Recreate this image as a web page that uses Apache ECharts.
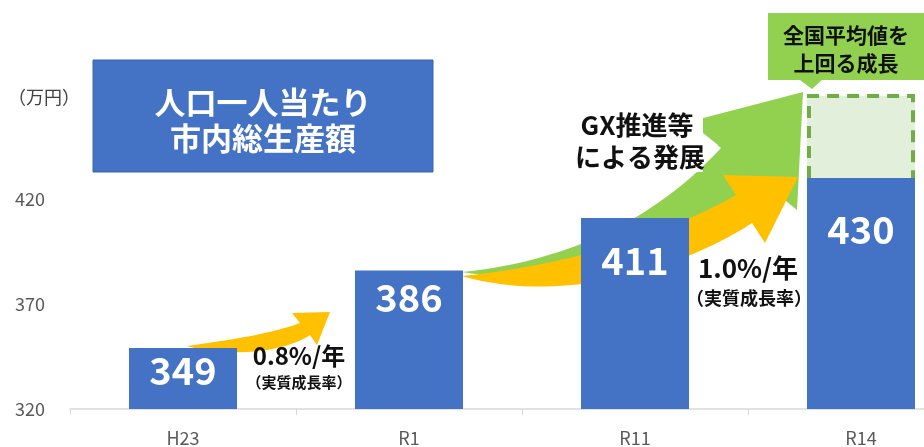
<!DOCTYPE html>
<html><head><meta charset="utf-8">
<script src="https://cdn.jsdelivr.net/npm/echarts@6/dist/echarts.min.js"></script>
<style>html,body{margin:0;padding:0;background:#fff}#c{width:924px;height:447px}</style>
</head><body><div id="c"></div>
<script>
const categories = ['H23', 'R1', 'R11', 'R14'];
const values = [349, 386, 411, 430];
const projected = [null, null, null, 469];
const yTicks = [320, 370, 420, 470];
const unitLabel = '（万円）';
const titleLines = ['人口一人当たり', '市内総生産額'];
const rate1 = ['0.8%/年', '（実質成長率）'];
const rate2 = ['1.0%/年', '（実質成長率）'];
const gxLines = ['GX推進等', 'による発展'];
const calloutLines = ['全国平均値を', '上回る成長'];

const FONT = '"Noto Sans CJK JP", "Noto Sans", sans-serif';
const labelDist = [3, 8, 24, 33];

const chart = echarts.init(document.getElementById('c'), null, {renderer: 'canvas'});

function cubic(p0, p1, p2, p3, n) {
  const pts = [];
  for (let i = 0; i <= n; i++) {
    const t = i / n, u = 1 - t;
    pts.push([
      u*u*u*p0[0] + 3*u*u*t*p1[0] + 3*u*t*t*p2[0] + t*t*t*p3[0],
      u*u*u*p0[1] + 3*u*u*t*p1[1] + 3*u*t*t*p2[1] + t*t*t*p3[1]
    ]);
  }
  return pts;
}
function arrow(tail, upC1, upC2, up, b1, tip, b2, low, lowC1, lowC2) {
  return cubic(tail, upC1, upC2, up, 30).concat([b1, tip, b2]).concat(cubic(low, lowC1, lowC2, tail, 30));
}

const option = {
  animation: false,
  grid: {left: 70, width: 904, top: 94, height: 315, containLabel: false, outerBoundsMode: 'none'},
  xAxis: {
    type: 'category', data: categories,
    axisLine: {lineStyle: {color: '#d9d9d9', width: 1.5}},
    axisTick: {show: true, length: 6, lineStyle: {color: '#d9d9d9'}},
    axisLabel: {color: '#595959', fontSize: 18, fontFamily: FONT, margin: 20}
  },
  yAxis: {
    type: 'value', min: yTicks[0], max: yTicks[yTicks.length - 1], interval: yTicks[1] - yTicks[0],
    axisLine: {show: false}, axisTick: {show: false}, splitLine: {show: false},
    axisLabel: {color: '#595959', fontSize: 18, fontFamily: FONT, margin: 25, showMaxLabel: false}
  },
  series: [
    {
      type: 'custom', z: 1,
      data: projected.map((v, i) => v == null ? null : [i, v, values[i]]).filter(d => d),
      renderItem: function (params, api) {
        const top = api.coord([api.value(0), api.value(1)]);
        const base = api.coord([api.value(0), api.value(2)]);
        const w = api.size([1, 0])[0] * 0.478;
        const l = top[0] - w / 2, r = top[0] + w / 2;
        return {
          type: 'group', children: [
            {type: 'rect', shape: {x: l, y: top[1], width: w, height: base[1] - top[1]}, style: {fill: '#e2efda'}},
            {type: 'polyline', shape: {points: [[l + 2, base[1]], [l + 2, top[1]], [r - 2, top[1]], [r - 2, base[1]]]},
              style: {stroke: '#70ad47', lineWidth: 4, lineDash: [12, 8], fill: null}}
          ]
        };
      }
    },
    {
      type: 'bar', z: 3, barWidth: '47.8%',
      itemStyle: {color: '#4472c4'},
      data: values.map((v, i) => ({
        value: v,
        label: {show: true, position: 'insideTop', distance: labelDist[i], color: '#fff', fontSize: 38, fontWeight: 'bold', fontFamily: FONT}
      }))
    }
  ],
  graphic: [
    {type: 'text', z: 50, x: 8, y: 97, style: {text: unitLabel, fill: '#404040', font: '18px ' + FONT, verticalAlign: 'middle'}},
    {type: 'rect', z: 50, shape: {x: 93, y: 60, width: 340, height: 112}, style: {fill: '#4472c4', stroke: '#3b64ad', lineWidth: 1}},
    {type: 'text', z: 51, x: 263, y: 102, style: {text: titleLines[0], fill: '#fff', font: 'bold 31px ' + FONT, align: 'center', verticalAlign: 'middle'}},
    {type: 'text', z: 51, x: 263, y: 138, style: {text: titleLines[1], fill: '#fff', font: 'bold 31px ' + FONT, align: 'center', verticalAlign: 'middle'}},
    {type: 'polygon', z: 0, shape: {points: arrow([462,272], [560,262], [650,225], [721,148], [688,122], [803,92], [797,210], [770,188], [690,250], [560,290])}, style: {fill: '#92d050'}},
    {type: 'polygon', z: 0, shape: {points: arrow([462,276], [560,266], [660,238], [736,195], [723,175], [798,177], [765,243], [752,223], [680,270], [560,305])}, style: {fill: '#ffc000'}},
    {type: 'polygon', z: 0, shape: {points: arrow([187,346], [230,340], [270,334], [300,323], [292,313], [330,312], [317,345], [310,335], [285,352], [230,358])}, style: {fill: '#ffc000'}},
    {type: 'polygon', z: 40, shape: {points: [[556, 104], [703, 104], [703, 133], [718, 145], [703, 160], [703, 172], [556, 172]]}, style: {fill: '#fff'}},
    {type: 'text', z: 51, x: 637, y: 125, style: {text: gxLines[0], fill: '#111', font: 'bold 26px ' + FONT, align: 'center', verticalAlign: 'middle'}},
    {type: 'text', z: 51, x: 640, y: 157, style: {text: gxLines[1], fill: '#111', font: 'bold 26px ' + FONT, align: 'center', verticalAlign: 'middle'}},
    {type: 'polygon', z: 40, shape: {points: [[768, 13], [924, 13], [924, 80], [822, 80], [812, 89], [800, 80], [768, 80]]}, style: {fill: '#92d050'}},
    {type: 'text', z: 51, x: 846, y: 35, style: {text: calloutLines[0], fill: '#111', font: 'bold 21px ' + FONT, align: 'center', verticalAlign: 'middle'}},
    {type: 'text', z: 51, x: 846, y: 63, style: {text: calloutLines[1], fill: '#111', font: 'bold 21px ' + FONT, align: 'center', verticalAlign: 'middle'}},
    {type: 'text', z: 51, x: 299, y: 356, style: {text: rate1[0], fill: '#111', font: 'bold 24px ' + FONT, align: 'center', verticalAlign: 'middle'}},
    {type: 'text', z: 51, x: 299, y: 382, style: {text: rate1[1], fill: '#111', font: 'bold 15px ' + FONT, align: 'center', verticalAlign: 'middle'}},
    {type: 'text', z: 51, x: 748, y: 268, style: {text: rate2[0], fill: '#111', font: 'bold 26px ' + FONT, align: 'center', verticalAlign: 'middle'}},
    {type: 'text', z: 51, x: 749, y: 298, style: {text: rate2[1], fill: '#111', font: 'bold 18px ' + FONT, align: 'center', verticalAlign: 'middle'}}
  ]
};
chart.setOption(option);
</script></body></html>
